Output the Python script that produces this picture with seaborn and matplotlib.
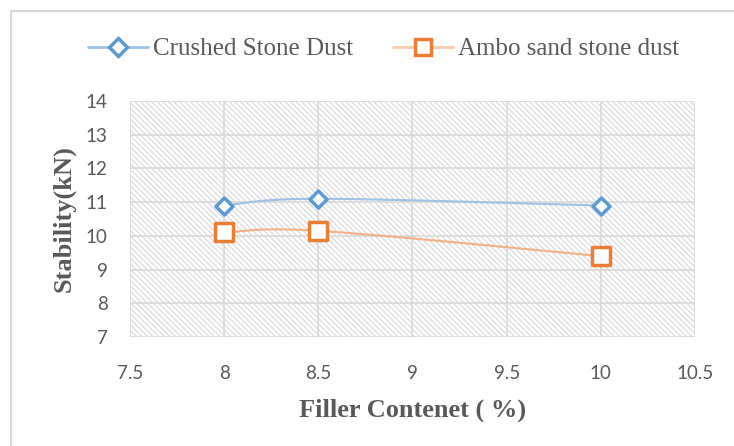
import numpy as np
import pandas as pd
import seaborn as sns
import matplotlib.pyplot as plt
from matplotlib.patches import Rectangle
from matplotlib.lines import Line2D

# data
filler = [8, 8.5, 10]
crushed = [10.9, 11.1, 10.9]
ambo = [10.1, 10.15, 9.4]

x_ticks = [7.5, 8, 8.5, 9, 9.5, 10, 10.5]
y_ticks = [7, 8, 9, 10, 11, 12, 13, 14]

blue = '#5b9bd5'
orange = '#ed7d31'


def smooth(xs, ys, n=40):
    # excel-style smoothed line (catmull-rom bezier through the points)
    xs = np.asarray(xs, float)
    ys = np.asarray(ys, float)
    px = np.concatenate([[xs[0]], xs, [xs[-1]]])
    py = np.concatenate([[ys[0]], ys, [ys[-1]]])
    ox, oy = [], []
    for i in range(1, len(px) - 2):
        p0 = np.array([px[i], py[i]])
        p3 = np.array([px[i + 1], py[i + 1]])
        c1 = p0 + (p3 - np.array([px[i - 1], py[i - 1]])) / 6
        c2 = p3 - (np.array([px[i + 2], py[i + 2]]) - p0) / 6
        t = np.linspace(0, 1, n)[:, None]
        pts = ((1 - t) ** 3) * p0 + 3 * ((1 - t) ** 2) * t * c1 + 3 * (1 - t) * t ** 2 * c2 + t ** 3 * p3
        ox.extend(pts[:, 0])
        oy.extend(pts[:, 1])
    return ox, oy


df = pd.DataFrame({'filler': filler, 'Crushed Stone Dust': crushed,
                   'Ambo sand stone dust': ambo})

sns.set_style('white')
plt.rcParams['hatch.color'] = '#dedede'
plt.rcParams['hatch.linewidth'] = 1.0

fig = plt.figure(figsize=(7.34, 4.46), dpi=100)
ax = fig.add_axes([130 / 734, 1 - 337 / 446, 565 / 734, 236 / 446])

ax.patch.set_facecolor('white')
ax.patch.set_hatch('\\' * 6)
ax.patch.set_edgecolor('#dedede')

# smoothed connecting lines
sx, sy = smooth(filler, crushed)
ax.plot(sx, sy, color='#9dc3e6', lw=1.5, zorder=2)
sx, sy = smooth(filler, ambo)
ax.plot(sx, sy, color='#f4b183', lw=1.5, zorder=2)

sns.scatterplot(data=df, x='filler', y='Crushed Stone Dust', ax=ax, marker='D',
                s=75, facecolor='white', edgecolor=blue, linewidth=2.5, zorder=3)
sns.scatterplot(data=df, x='filler', y='Ambo sand stone dust', ax=ax, marker='s',
                s=170, facecolor='white', edgecolor=orange, linewidth=2.5, zorder=3)

ax.set_xlim(7.5, 10.5)
ax.set_ylim(7, 14)
ax.set_xticks(x_ticks)
ax.set_yticks(y_ticks)
ax.set_xticklabels([f'{v:g}' for v in x_ticks])
ax.set_yticklabels([f'{v:g}' for v in y_ticks])
ax.grid(True, color='#d9d9d9', lw=1.2)
ax.set_axisbelow(True)
for s in ax.spines.values():
    s.set_visible(False)
ax.tick_params(length=0, labelsize=13.5, labelcolor='#595959')
ax.tick_params(axis='x', pad=20)
ax.tick_params(axis='y', pad=16)
for lab in ax.get_xticklabels() + ax.get_yticklabels():
    lab.set_family('Lato')

ax.set_xlabel('Filler Contenet ( %)', family='Liberation Serif', fontweight='bold',
              fontsize=19, color='#595959', labelpad=12)
ax.set_ylabel('Stability(kN)', family='Liberation Serif', fontweight='bold',
              fontsize=19, color='#595959', labelpad=7)

handles = [
    Line2D([], [], color='#9dc3e6', lw=2, marker='D', markersize=9,
           markerfacecolor='white', markeredgecolor=blue, markeredgewidth=2.5),
    Line2D([], [], color='#f8cbad', lw=2, marker='s', markersize=12,
           markerfacecolor='white', markeredgecolor=orange, markeredgewidth=2.5),
]
fig.legend(handles, ['Crushed Stone Dust', 'Ambo sand stone dust'],
           loc='center', bbox_to_anchor=(0.522, 1 - 49 / 446), ncol=2, frameon=False,
           prop={'family': 'Liberation Serif', 'size': 18}, labelcolor='#595959',
           handlelength=2.4, columnspacing=1.6, handletextpad=0.2)

# chart area border
fig.patches.append(Rectangle((11 / 734, -0.1), 1.2, 1 - 11 / 446 + 0.1,
                             transform=fig.transFigure, fill=False,
                             edgecolor='#d9d9d9', lw=1.5))

fig.savefig('out.png', dpi=100)
